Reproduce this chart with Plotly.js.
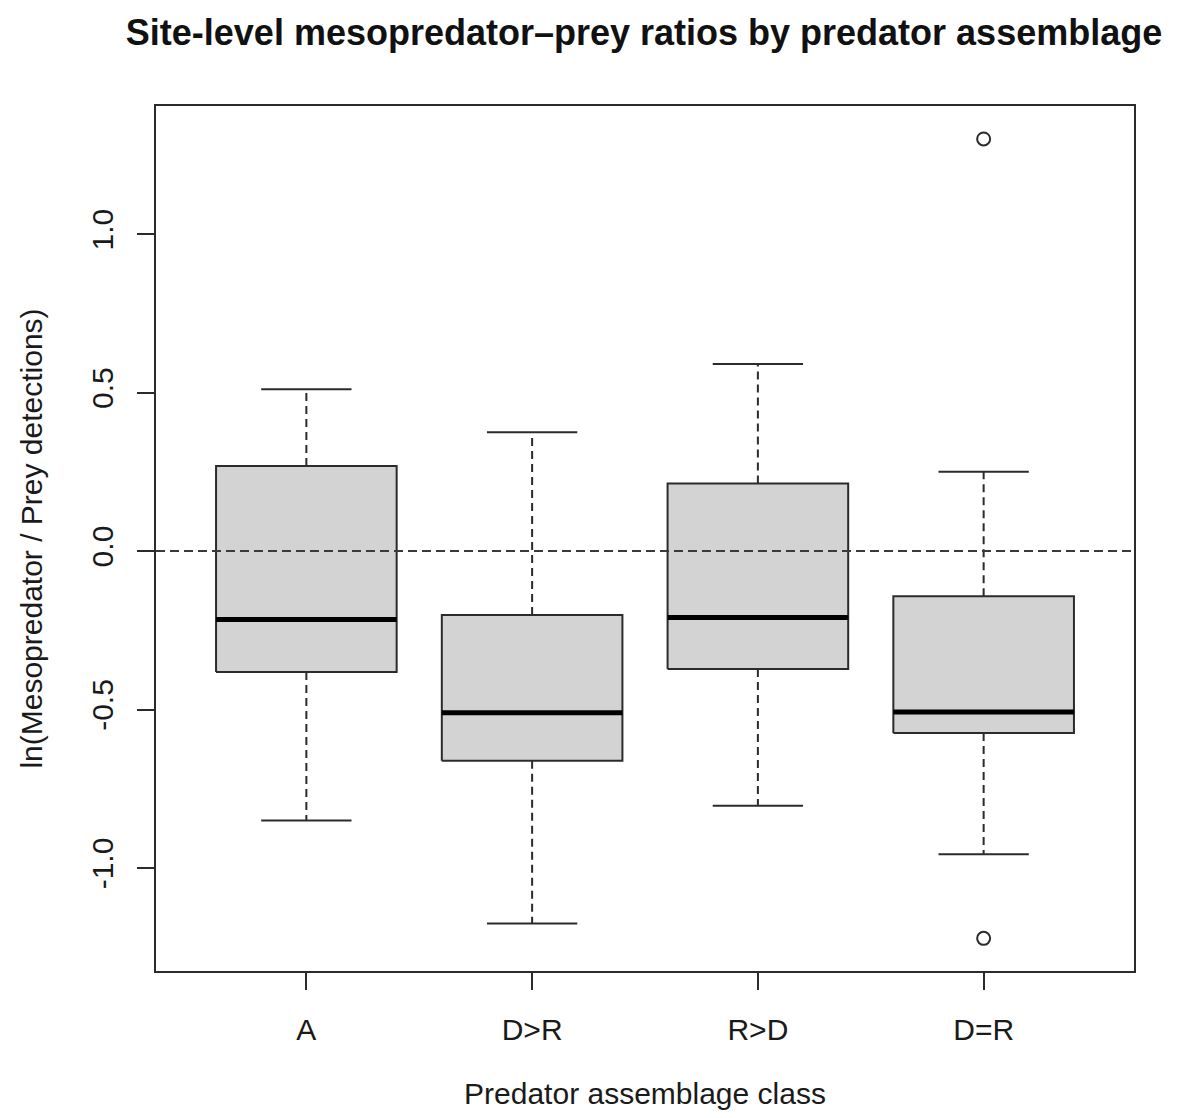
<!DOCTYPE html>
<html>
<head>
<meta charset="utf-8">
<script src="https://cdn.plot.ly/plotly-3.0.1.min.js"></script>
<style>
  html, body { margin: 0; padding: 0; background: #fff; }
  #chart { width: 1185px; height: 1118px; }
</style>
</head>
<body>
<div id="chart"></div>
<script>
// Predator assemblage classes and five-number summaries of ln(mesopredator / prey detections)
const categories   = ['A', 'D>R', 'R>D', 'D=R'];
const upperWhisker = [0.51, 0.375, 0.59, 0.25];
const q3           = [0.268, -0.202, 0.213, -0.143];
const median       = [-0.216, -0.51, -0.21, -0.508];
const q1           = [-0.382, -0.662, -0.372, -0.574];
const lowerWhisker = [-0.85, -1.175, -0.804, -0.957];

// Points beyond the whiskers
const outlierGroup = ['D=R', 'D=R'];
const outlierValue = [1.30, -1.222];

// y-axis ticks
const yTickVals = [-1.0, -0.5, 0.0, 0.5, 1.0];
const yTickText = ['-1.0', '-0.5', '0.0', '0.5', '1.0'];

const referenceLevel = 0;

const BOX_HALF = 0.4;
const CAP_HALF = 0.2;
const LINE = '#2b2b2b';
const FONT = '"Liberation Sans", Arial, Helvetica, sans-serif';

const traces = [];
categories.forEach((cat, i) => {
  // dashed whiskers
  traces.push({
    type: 'scatter', mode: 'lines', hoverinfo: 'skip', showlegend: false,
    x: [i, i, null, i, i],
    y: [q3[i], upperWhisker[i], null, q1[i], lowerWhisker[i]],
    line: { color: LINE, width: 2, dash: '8px,5px' }
  });
  // whisker caps
  traces.push({
    type: 'scatter', mode: 'lines', hoverinfo: 'skip', showlegend: false,
    x: [i - CAP_HALF, i + CAP_HALF, null, i - CAP_HALF, i + CAP_HALF],
    y: [upperWhisker[i], upperWhisker[i], null, lowerWhisker[i], lowerWhisker[i]],
    line: { color: LINE, width: 2 }
  });
  // interquartile box
  traces.push({
    type: 'scatter', mode: 'lines', hoverinfo: 'skip', showlegend: false,
    x: [i - BOX_HALF, i + BOX_HALF, i + BOX_HALF, i - BOX_HALF, i - BOX_HALF],
    y: [q1[i], q1[i], q3[i], q3[i], q1[i]],
    fill: 'toself', fillcolor: '#d3d3d3',
    line: { color: LINE, width: 2 }
  });
  // median bar
  traces.push({
    type: 'scatter', mode: 'lines', hoverinfo: 'skip', showlegend: false,
    x: [i - BOX_HALF, i + BOX_HALF],
    y: [median[i], median[i]],
    line: { color: '#000', width: 5 }
  });
});

// outliers as open circles
traces.push({
  type: 'scatter', mode: 'markers', hoverinfo: 'skip', showlegend: false,
  x: outlierGroup.map(g => categories.indexOf(g)),
  y: outlierValue,
  marker: { symbol: 'circle-open', size: 13, color: LINE, line: { width: 2, color: LINE } }
});

const layout = {
  width: 1185, height: 1118,
  paper_bgcolor: '#fff', plot_bgcolor: '#fff',
  margin: { l: 156, r: 51, t: 106, b: 147 },
  font: { family: FONT, color: '#1a1a1a', size: 30 },
  title: {
    text: '<b>Site-level mesopredator\u2013prey ratios by predator assemblage</b>',
    font: { family: FONT, size: 36, color: '#111' },
    x: 644 / 1185, xref: 'container', xanchor: 'center',
    y: 1 - 32 / 1118, yref: 'container', yanchor: 'middle'
  },
  xaxis: {
    range: [-0.666, 3.666],
    tickmode: 'array',
    tickvals: categories.map((c, i) => i),
    ticktext: categories,
    ticks: 'outside', ticklen: 17, tickwidth: 2, tickcolor: LINE,
    ticklabelstandoff: 14,
    showgrid: false, zeroline: false,
    showline: true, mirror: true, linecolor: LINE, linewidth: 2,
    tickfont: { family: FONT, size: 30, color: '#1a1a1a' },
    title: { text: 'Predator assemblage class', font: { family: FONT, size: 30, color: '#1a1a1a' }, standoff: 38 },
    fixedrange: true
  },
  yaxis: {
    range: [-1.325, 1.404],
    tickmode: 'array',
    tickvals: yTickVals,
    ticktext: yTickText,
    tickangle: -90,
    ticks: 'outside', ticklen: 17, tickwidth: 2, tickcolor: LINE,
    ticklabelstandoff: 12,
    showgrid: false, zeroline: false,
    showline: true, mirror: true, linecolor: LINE, linewidth: 2,
    tickfont: { family: FONT, size: 30, color: '#1a1a1a' },
    title: { text: 'ln(Mesopredator / Prey detections)', font: { family: FONT, size: 30, color: '#1a1a1a' }, standoff: 35 },
    fixedrange: true
  },
  shapes: [{
    type: 'line', xref: 'paper', x0: 0, x1: 1, yref: 'y', y0: referenceLevel, y1: referenceLevel,
    line: { color: '#3a3a3a', width: 2, dash: '9px,5px' }, layer: 'above'
  }]
};

Plotly.newPlot('chart', traces, layout, { displayModeBar: false, staticPlot: true });
</script>
</body>
</html>
